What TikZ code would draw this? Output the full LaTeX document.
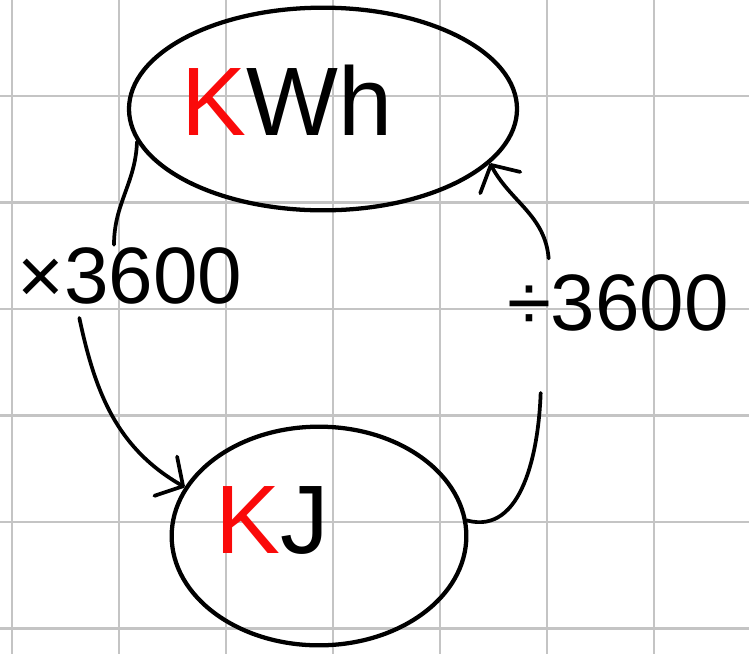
\documentclass[tikz,border=0pt]{standalone}
\usepackage{fontspec}
\setmainfont{Liberation Sans}
\usetikzlibrary{shapes.geometric, arrows.meta, positioning, calc}
\definecolor{gridgray}{RGB}{196, 196, 196}
\definecolor{inkred}{RGB}{250, 10, 10}

\begin{document}
\begin{tikzpicture}[x=0.75pt, y=-0.75pt,
  unitbubble/.style={draw, ellipse, line width=3.2pt, inner sep=0pt},
  unittext/.style={font=\fontsize{73}{73}\selectfont, inner sep=0pt},
  factortext/.style={font=\fontsize{60}{60}\selectfont, inner sep=2pt},
  convline/.style={line width=2.8pt, line cap=round},
  convarrow/.style={convline, -{Straight Barb[length=15pt, width=34pt, round]}},
  gridline/.style={gridgray, line width=1.6pt}]
  \useasboundingbox[fill=white] (0,0) rectangle (749,654);
  % squared paper
  \foreach \i in {0,...,6} \draw[gridline] (12+107*\i,0) -- (12+107*\i,654);
  \foreach \j in {0,...,5} \draw[gridline] (0,96+106.5*\j) -- (749,96+106.5*\j);
  % units
  \node[unitbubble, minimum width=291pt, minimum height=152pt] (kwh) at (323,109) {};
  \node[unittext] (kwhtxt) at (287,100) {\textcolor{inkred}{K}Wh};
  \node[unitbubble, minimum width=221pt, minimum height=164pt] (kj) at (319,536) {};
  \node[unittext] (kjtxt) at (272,520) {\textcolor{inkred}{K}J};
  % factors
  \node[factortext] (mul) at (130,276) {×3600};
  \node[factortext] (divlbl) at (618,303) {÷3600};
  % kWh -> kJ
  \draw[convline] (kwh.190) to[out=-92, in=90] ([xshift=-12pt]mul.north);
  \draw[convarrow] ([xshift=-38pt, yshift=-8pt]mul.south) to[out=-78, in=150] (kj.160);
  % kJ -> kWh
  \draw[convline] (kj.6) to[out=-15, in=-92] ([xshift=-58pt, yshift=-44pt]divlbl.south);
  \draw[convarrow] ([xshift=-52pt, yshift=10pt]divlbl.north) to[out=95, in=-62] (kwh.-18);
\end{tikzpicture}
\end{document}
